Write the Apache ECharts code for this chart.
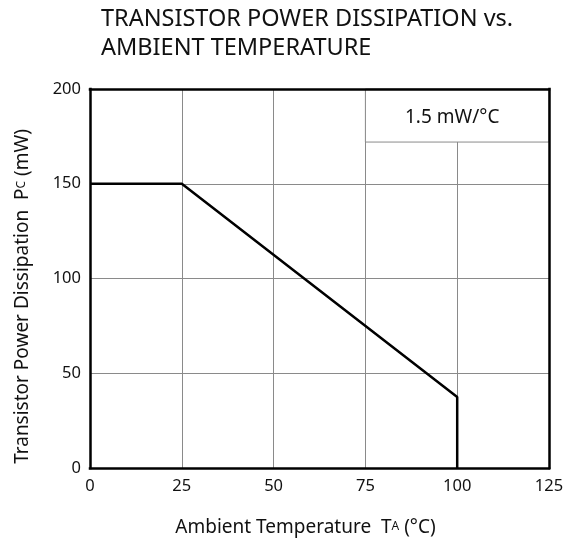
<!DOCTYPE html>
<html>
<head>
<meta charset="utf-8">
<script src="https://cdn.jsdelivr.net/npm/echarts@6/dist/echarts.min.js"></script>
<style>
html,body{margin:0;padding:0;background:#fff;}
#c{width:575px;height:545px;}
</style>
</head>
<body>
<div id="c"></div>
<script>
var titleLines = ['TRANSISTOR POWER DISSIPATION vs.', 'AMBIENT TEMPERATURE'];
var xTicks = [0, 25, 50, 75, 100, 125];
var yTicks = [0, 50, 100, 150, 200];
var curveTemp = [0, 25, 100, 100];
var curvePower = [150, 150, 37.5, 0];
var deratingLabel = '1.5 mW/°C';
var boxFrom = [75, 200];
var boxTo = [125, 172];

var FONT = 'Noto Sans';
var chart = echarts.init(document.getElementById('c'), null, {renderer: 'canvas'});
var curve = curveTemp.map(function (t, i) { return [t, curvePower[i]]; });
var xMin = xTicks[0], xMax = xTicks[xTicks.length - 1];
var yMin = yTicks[0], yMax = yTicks[yTicks.length - 1];
var frameLine = {show: true, onZero: false, lineStyle: {color: '#000', width: 2.5, cap: 'square'}};

chart.setOption({
  animation: false,
  backgroundColor: '#fff',
  title: {
    text: titleLines.join('\n'),
    left: 96, top: 0,
    textStyle: {fontFamily: FONT, fontWeight: 'normal', fontSize: 23.5, color: '#111', lineHeight: 29}
  },
  grid: {left: 90, right: 26, top: 89, bottom: 77, show: false},
  xAxis: [{
    type: 'value', min: xMin, max: xMax, interval: 25, position: 'bottom',
    axisLine: frameLine, axisTick: {show: false}, z: 1,
    splitLine: {show: true, showMinLine: false, showMaxLine: false, lineStyle: {color: '#8a8a8a', width: 1}},
    axisLabel: {fontFamily: FONT, fontSize: 16.5, color: '#111', margin: 10},
    name: '{a|Ambient Temperature  T}{b|A}{a| (°C)}',
    nameLocation: 'middle', nameGap: 50,
    nameTextStyle: {
      padding: [0, 28, 0, 0],
      rich: {
        a: {fontFamily: FONT, fontSize: 19, color: '#111'},
        b: {fontFamily: FONT, fontSize: 12, color: '#111', padding: [0, 0, 2, 0]}
      }
    }
  }, {
    type: 'value', min: xMin, max: xMax, interval: 25, position: 'top',
    axisLine: frameLine, axisTick: {show: false}, axisLabel: {show: false},
    splitLine: {show: false}, z: 10
  }],
  yAxis: [{
    type: 'value', min: yMin, max: yMax, interval: 50, position: 'left',
    axisLine: frameLine, axisTick: {show: false}, z: 1,
    splitLine: {show: true, showMinLine: false, showMaxLine: false, lineStyle: {color: '#8a8a8a', width: 1}},
    axisLabel: {fontFamily: FONT, fontSize: 16.5, color: '#111', margin: 9},
    name: '{a|Transistor Power Dissipation  P}{b|C}{a| (mW)}',
    nameLocation: 'middle', nameGap: 58,
    nameTextStyle: {
      padding: [0, 36, 0, 0],
      rich: {
        a: {fontFamily: FONT, fontSize: 19, color: '#111'},
        b: {fontFamily: FONT, fontSize: 12, color: '#111', padding: [0, 0, 2, 0]}
      }
    }
  }, {
    type: 'value', min: yMin, max: yMax, interval: 50, position: 'right',
    axisLine: frameLine, axisTick: {show: false}, axisLabel: {show: false},
    splitLine: {show: false}, z: 10
  }],
  series: [{
    type: 'line',
    xAxisIndex: 0, yAxisIndex: 0,
    data: curve,
    symbol: 'none',
    lineStyle: {color: '#000', width: 2.5},
    z: 5,
    markArea: {
      silent: true,
      itemStyle: {color: '#fff', borderColor: '#8a8a8a', borderWidth: 1},
      label: {show: true, position: 'inside', formatter: deratingLabel,
        fontFamily: FONT, fontSize: 19, color: '#111', offset: [-5, 2]},
      data: [[{coord: boxFrom}, {coord: boxTo}]]
    }
  }]
});
</script>
</body>
</html>
